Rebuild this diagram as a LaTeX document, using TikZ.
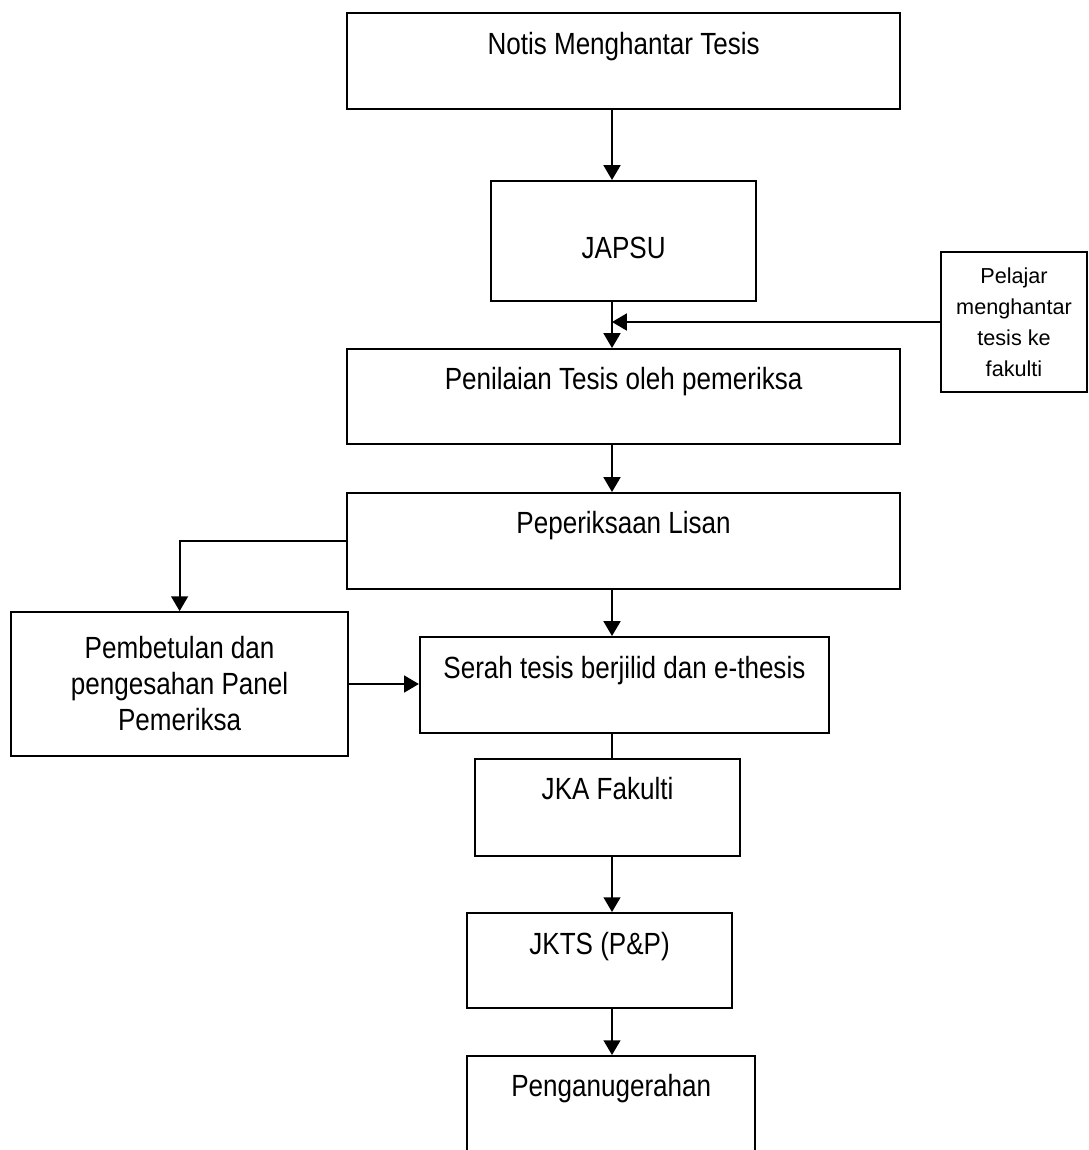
\documentclass[tikz,border=0pt]{standalone}
\usepackage{fontspec}
\setmainfont{Liberation Sans}[FakeStretch=0.85]
\newfontfamily\widesans{Liberation Sans}
\usetikzlibrary{arrows.meta}

\begin{document}
\begin{tikzpicture}[
	box/.style={draw, inner sep=0pt, anchor=north, minimum width=#1},
	sidebox/.style={draw, inner sep=0pt, align=center},
	tip/.style={-{Triangle[width=12pt,length=10.5pt]}},
	line width=1.3pt, font=\fontsize{21.8}{25.6}\selectfont]
	\useasboundingbox (0,0) rectangle (27.225,-28.75);
	\coordinate (spine) at (15.3,0);

	\node[box=13.83cm, text height=1.05cm, text depth=1.35cm] (notis) at (15.59,-0.3) {Notis Menghantar Tesis};
	\node[box=6.63cm, text height=1.95cm, text depth=1.05cm] (japsu) at (15.59,-4.5) {JAPSU};
	\node[box=13.83cm, text height=1.025cm, text depth=1.35cm] (penilaian) at (15.59,-8.7) {Penilaian Tesis oleh pemeriksa};
	\node[box=13.83cm, text height=1.025cm, text depth=1.375cm] (peperiksaan) at (15.59,-12.3) {Peperiksaan Lisan};
	\node[box=10.23cm, text height=1.05cm, text depth=1.35cm] (serah) at (15.61,-15.9) {Serah tesis berjilid dan e-thesis};
	\node[box=6.63cm, text height=1.025cm, text depth=1.4cm] (jka) at (15.19,-18.95) {JKA Fakulti};
	\node[box=6.63cm, text height=1.05cm, text depth=1.325cm] (jkts) at (14.99,-22.8) {JKTS (P\&P)};
	\node[box=7.2cm, text height=1.025cm, text depth=1.4cm] (pengan) at (15.28,-26.375) {Penganugerahan};

	\node[sidebox, minimum width=3.65cm, minimum height=3.5cm, font=\widesans\fontsize{15.4}{22}\selectfont] (pelajar) at (25.35,-8.05) {Pelajar\\menghantar\\tesis ke\\fakulti};
	\node[sidebox, minimum width=8.43cm, minimum height=3.6cm] (pembetulan) at (4.49,-17.1) {Pembetulan dan\\pengesahan Panel\\Pemeriksa};

	\draw[tip] (notis.south -| spine) -- (japsu.north -| spine);
	\draw[tip] (japsu.south -| spine) -- (penilaian.north -| spine);
	\draw[tip] (pelajar.west) -- (pelajar.west -| spine);
	\draw[tip] (penilaian.south -| spine) -- (peperiksaan.north -| spine);
	\draw[tip] (peperiksaan.south -| spine) -- (serah.north -| spine);
	\draw[tip] (peperiksaan.west) -| (pembetulan.north);
	\draw[tip] (pembetulan.east) -- (serah.west |- pembetulan.east);
	\draw (serah.south -| spine) -- (jka.north -| spine);
	\draw[tip] (jka.south -| spine) -- (jkts.north -| spine);
	\draw[tip] (jkts.south -| spine) -- (pengan.north -| spine);
\end{tikzpicture}
\end{document}
